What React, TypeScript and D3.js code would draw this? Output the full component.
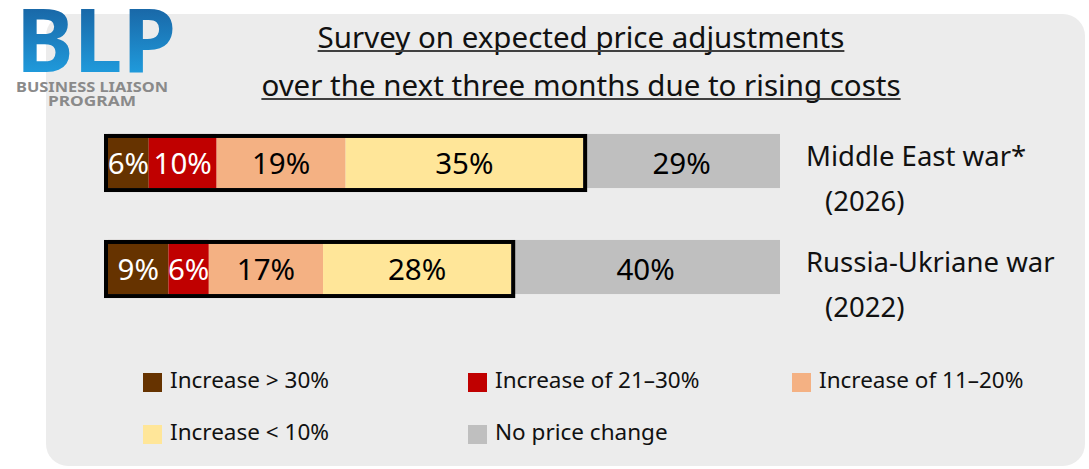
import * as d3 from "d3";
import { useEffect, useRef } from "react";

const rows = ["Middle East war*", "Russia-Ukriane war"];
const rowYears = ["(2026)", "(2022)"];
const seriesNames = [
	"Increase > 30%",
	"Increase of 21–30%",
	"Increase of 11–20%",
	"Increase < 10%",
	"No price change",
];
const seriesColors = ["#663300", "#C00000", "#F4B183", "#FFE699", "#BFBFBF"];
const labelColors = ["#ffffff", "#ffffff", "#000000", "#000000", "#000000"];
const over30 = [6, 9];
const of21to30 = [10, 6];
const of11to20 = [19, 17];
const under10 = [35, 28];
const noChange = [29, 40];
const titleLines = [
	"Survey on expected price adjustments",
	"over the next three months due to rising costs",
];

const W = 1089;
const H = 469;
const FONT = "'Noto Sans', 'DejaVu Sans', sans-serif";

type Row = { row: string; [key: string]: number | string };

export default function App() {
	const ref = useRef<SVGSVGElement | null>(null);

	useEffect(() => {
		if (!ref.current) return;
		const svg = d3.select(ref.current);
		svg.selectAll("*").remove();
		svg.attr("width", W).attr("height", H).style("font-family", FONT);

		const table: Row[] = rows.map((row, i) => {
			const vals = [over30[i], of21to30[i], of11to20[i], under10[i], noChange[i]];
			const r: Row = { row };
			seriesNames.forEach((k, j) => (r[k] = vals[j]));
			return r;
		});

		const stacked = d3
			.stack<Row>()
			.keys(seriesNames)
			.value((d, k) => d[k] as number)
			.offset(d3.stackOffsetExpand)(table);

		const x = d3.scaleLinear().domain([0, 1]).range([108, 780]);
		const y = d3
			.scaleBand<string>()
			.domain(rows)
			.range([108, 320])
			.paddingInner(0.49)
			.paddingOuter(0.245);
		const bw = y.bandwidth();

		// panel
		svg
			.append("rect")
			.attr("x", 46)
			.attr("y", 14)
			.attr("width", 1039)
			.attr("height", 452)
			.attr("rx", 22)
			.attr("fill", "#ECECEC");

		// logo
		const defs = svg.append("defs");
		const grad = defs
			.append("linearGradient")
			.attr("id", "logoGrad")
			.attr("x1", 0)
			.attr("y1", 0)
			.attr("x2", 0)
			.attr("y2", 1);
		grad.append("stop").attr("offset", "0%").attr("stop-color", "#16508f");
		grad.append("stop").attr("offset", "100%").attr("stop-color", "#22aef0");

		svg
			.append("text")
			.attr("x", 16)
			.attr("y", 72)
			.attr("font-size", 88)
			.attr("font-weight", 700)
			.attr("textLength", 160)
			.attr("lengthAdjust", "spacingAndGlyphs")
			.attr("fill", "url(#logoGrad)")
			.text("BLP");

		const logoSub = svg
			.append("g")
			.attr("fill", "#8a8a8a")
			.attr("font-weight", 700)
			.attr("font-size", 14)
			.attr("text-anchor", "middle");
		logoSub
			.append("text")
			.attr("x", 92)
			.attr("y", 92)
			.attr("textLength", 152)
			.attr("lengthAdjust", "spacingAndGlyphs")
			.text("BUSINESS LIAISON");
		logoSub
			.append("text")
			.attr("x", 92)
			.attr("y", 106)
			.attr("textLength", 88)
			.attr("lengthAdjust", "spacingAndGlyphs")
			.text("PROGRAM");

		// title
		const titleY = [48, 96];
		titleLines.forEach((t, i) => {
			const txt = svg
				.append("text")
				.attr("x", 581)
				.attr("y", titleY[i])
				.attr("text-anchor", "middle")
				.attr("font-size", 29.5)
				.attr("fill", "#111")
				.text(t);
			const len = (txt.node() as SVGTextElement).getComputedTextLength();
			svg
				.append("line")
				.attr("x1", 581 - len / 2)
				.attr("x2", 581 + len / 2)
				.attr("y1", titleY[i] + 3)
				.attr("y2", titleY[i] + 3)
				.attr("stroke", "#404040")
				.attr("stroke-width", 2);
		});

		// segments
		const seg = svg
			.append("g")
			.selectAll("g")
			.data(stacked)
			.join("g")
			.attr("fill", (_, i) => seriesColors[i]);

		seg
			.selectAll("rect")
			.data((d) => d)
			.join("rect")
			.attr("x", (d) => x(d[0]))
			.attr("y", (d) => y(d.data.row as string)!)
			.attr("width", (d) => x(d[1]) - x(d[0]))
			.attr("height", bw);

		// outline around the price-increase part
		const lastIncrease = stacked[3];
		svg
			.append("g")
			.selectAll("rect")
			.data(lastIncrease)
			.join("rect")
			.attr("x", x(0) - 2)
			.attr("y", (d) => y(d.data.row as string)! + 2)
			.attr("width", (d) => x(d[1]) - x(0) + 4)
			.attr("height", bw)
			.attr("fill", "none")
			.attr("stroke", "#000")
			.attr("stroke-width", 4);

		// value labels
		seg.each(function (s, i) {
			d3.select(this)
				.selectAll("text")
				.data(s)
				.join("text")
				.attr("x", (d) => (x(d[0]) + x(d[1])) / 2)
				.attr("y", (d) => y(d.data.row as string)! + bw / 2 + 13)
				.attr("text-anchor", "middle")
				.attr("font-size", 29.5)
				.attr("fill", labelColors[i])
				.text((d) => `${d.data[s.key]}%`);
		});

		// row labels
		const rl = svg
			.append("g")
			.attr("font-size", 27.5)
			.attr("fill", "#111")
			.selectAll("g")
			.data(rows)
			.join("g");
		rl.append("text")
			.attr("x", 806)
			.attr("y", (d) => y(d)! + bw / 2 + 5)
			.text((d) => d);
		rl.append("text")
			.attr("x", 825)
			.attr("y", (d) => y(d)! + bw / 2 + 50)
			.text((_, i) => rowYears[i]);

		// legend
		const colX = [143, 468, 792];
		const rowY = [373, 425];
		const lg = svg
			.append("g")
			.selectAll("g")
			.data(seriesNames)
			.join("g")
			.attr(
				"transform",
				(_, i) => `translate(${colX[i % 3]},${rowY[Math.floor(i / 3)]})`,
			);
		lg.append("rect")
			.attr("width", 19)
			.attr("height", 19)
			.attr("fill", (_, i) => seriesColors[i]);
		lg.append("text")
			.attr("x", 27)
			.attr("y", 15)
			.attr("font-size", 22.5)
			.attr("fill", "#111")
			.text((d) => d);
	}, []);

	return (
		<svg
			ref={ref}
			style={{ position: "absolute", left: 0, top: 0, display: "block" }}
		></svg>
	);
}
